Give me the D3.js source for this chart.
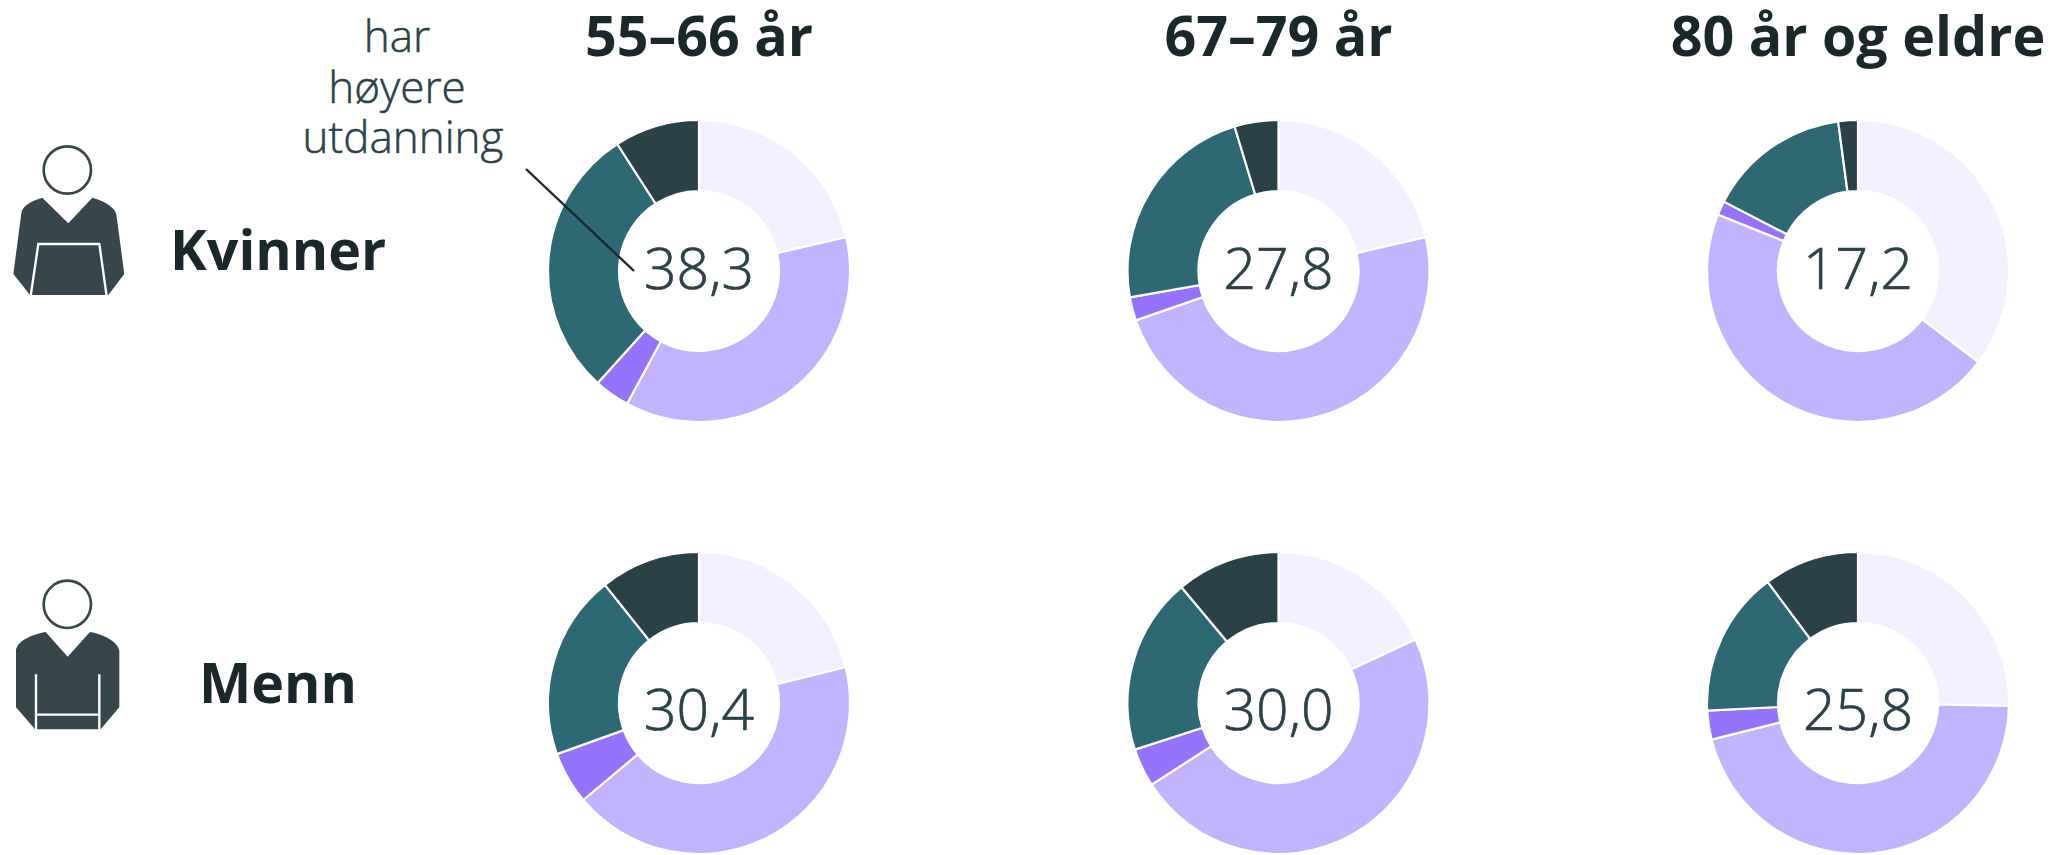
<!DOCTYPE html>
<html><head><meta charset="utf-8">
<script src="https://cdn.jsdelivr.net/npm/d3@7/dist/d3.min.js"></script>
<style>html,body{margin:0;padding:0;background:#fff}svg{display:block}text{font-family:"Open Sans",sans-serif}</style>
</head><body><svg id="c" width="2057" height="855"></svg>
<script>
const ageGroups = ["55–66 år","67–79 år","80 år og eldre"];
const genders = ["Kvinner","Menn"];
const segmentColors = ["#f2f0ff","#c2b3ff","#9673fc","#2d6975","#2a4147"];
const kvinnerValues = [
  [21.4,36.5,3.8,29.2,9.1],
  [21.4,48.3,2.5,23.1,4.7],
  [35.3,45.8,1.5,15.3,2.1]];
const mennValues = [
  [21.2,42.7,5.6,19.8,10.7],
  [18.1,47.8,4.1,18.9,11.1],
  [25.3,45.8,3.1,15.6,10.2]];
const kvinnerLabels = ["38,3","27,8","17,2"];
const mennLabels = ["30,4","30,0","25,8"];
const annotationLines = ["har","høyere","utdanning"];

const svg = d3.select("#c");
const x = d3.scalePoint().domain(ageGroups).range([699,1858]);
const y = d3.scalePoint().domain(genders).range([271,703]);
const pie = d3.pie().sort(null).value(d=>d);
const arc = d3.arc().innerRadius(80).outerRadius(151);
const ink="#1a272b", mid="#2a4147", icon="#37464b";

ageGroups.forEach(a=>svg.append("text").attr("x",x(a)).attr("y",55.5).attr("text-anchor","middle")
  .attr("font-size",55.6).attr("font-weight",700).attr("fill",ink).text(a));

[[genders[0],kvinnerValues,kvinnerLabels,17.5],[genders[1],mennValues,mennLabels,27]].forEach(([g,vals,labs,dy])=>{
  ageGroups.forEach((a,i)=>{
    const gg=svg.append("g").attr("transform",`translate(${x(a)},${y(g)})`);
    gg.selectAll("path").data(pie(vals[i])).join("path").attr("d",arc)
      .attr("fill",(d,j)=>segmentColors[j]).attr("stroke","#fff").attr("stroke-width",2.2);
    gg.append("text").attr("y",dy).attr("text-anchor","middle").attr("font-size",57).attr("font-weight",300)
      .attr("fill",mid).attr("stroke",mid).attr("stroke-width",0.7).text(labs[i]);
  });
});

svg.append("text").attr("x",170).attr("y",270).attr("font-size",55.5).attr("font-weight",700).attr("fill",ink).text(genders[0]);
svg.append("text").attr("x",199).attr("y",703).attr("font-size",55.5).attr("font-weight",700).attr("fill",ink).text(genders[1]);

annotationLines.forEach((t,i)=>svg.append("text").attr("x",i<2?397:403).attr("y",52+i*50.5).attr("text-anchor","middle")
  .attr("font-size",44).attr("font-weight",300).attr("fill",mid).attr("stroke",mid).attr("stroke-width",0.5).text(t));
svg.append("line").attr("x1",526).attr("y1",169).attr("x2",634).attr("y2",271).attr("stroke",ink).attr("stroke-width",2.4);

// icons
const f=svg.append("g").attr("transform","translate(0,120) scale(0.3333)");
f.append("circle").attr("cx",202).attr("cy",150).attr("r",71).attr("fill","#fff").attr("stroke",icon).attr("stroke-width",8);
f.append("path").attr("fill",icon).attr("d","M127,233L205,310L277,233C300,240 320,248 333,260C345,270 349,278 350,290L373,462L325,525L90,525L40,462L64,280C66,265 75,258 90,248C100,242 115,236 127,233Z");
f.append("path").attr("fill","none").attr("stroke","#fff").attr("stroke-width",7).attr("d","M92,528L115,372L298,372L320,528");
const m=svg.append("g").attr("transform","translate(0,560) scale(0.3333)");
m.append("circle").attr("cx",202).attr("cy",133).attr("r",71).attr("fill","#fff").attr("stroke",icon).attr("stroke-width",8);
m.append("path").attr("fill",icon).attr("d","M137,216L203,290L270,216C320,225 355,250 358,272L358,442L302,508L105,508L48,442L48,272C50,245 90,225 137,216Z");
m.append("path").attr("fill","none").attr("stroke","#fff").attr("stroke-width",7).attr("d","M108,343L108,512M298,343L298,512M108,464L298,464");
</script></body></html>
